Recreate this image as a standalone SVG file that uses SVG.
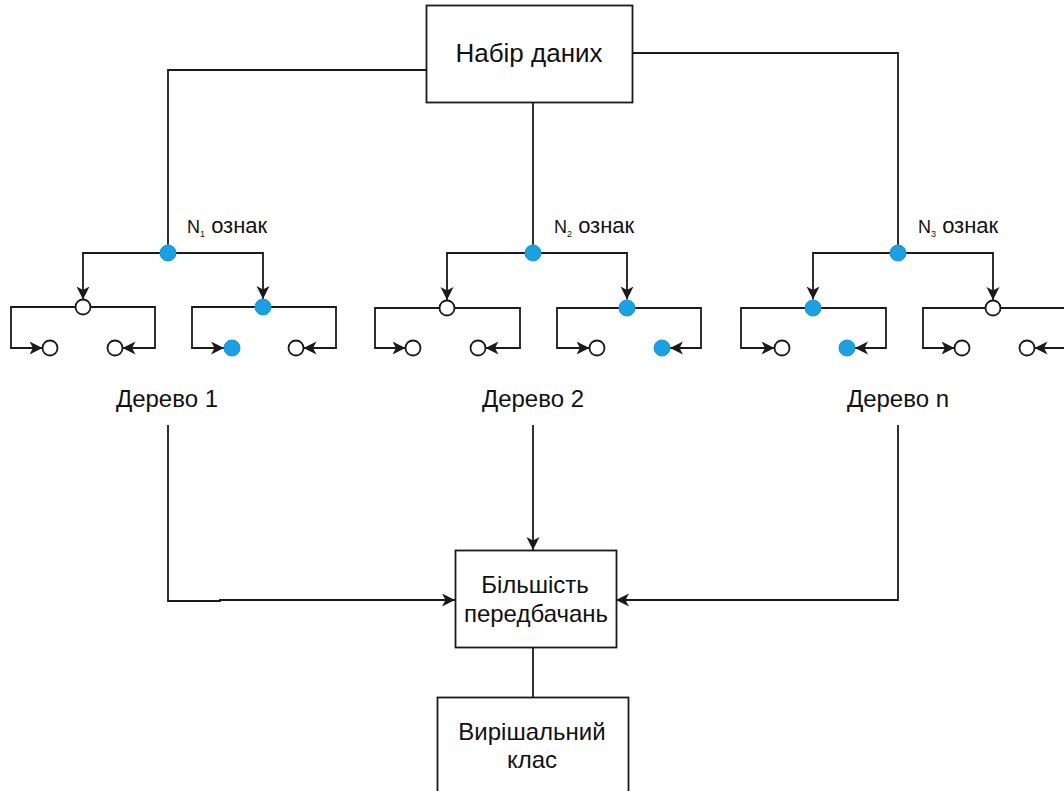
<svg xmlns="http://www.w3.org/2000/svg" width="1064" height="791" viewBox="0 0 1064 791">
<defs>
<style>
.ln{fill:none;stroke:#1a1a1a;stroke-width:1.8}
.box{fill:#fff;stroke:#1a1a1a;stroke-width:1.8}
.w{fill:#fff;stroke:#1a1a1a;stroke-width:1.8}
.b{fill:#1ba1e2;stroke:#1796d6;stroke-width:1}
.t{font-family:"Liberation Sans",Arial,Helvetica,sans-serif;font-size:24px;fill:#111;text-anchor:middle}
.big{font-size:26px}
.s{font-family:"Liberation Sans",Arial,Helvetica,sans-serif;font-size:22px;fill:#111}
</style>
<marker id="ah" markerUnits="userSpaceOnUse" markerWidth="14" markerHeight="14" refX="13" refY="6.5" orient="auto">
<path d="M0,0 L13,6.5 L0,13 L3.5,6.5 Z" fill="#1a1a1a"/>
</marker>
</defs>
<rect width="1064" height="791" fill="#fff"/>

<g id="connectors">
<path class="ln" d="M426,70 H168 V245"/>
<path class="ln" d="M533,102 V245"/>
<path class="ln" d="M632,53 H898 V245"/>
<path class="ln" d="M168,425 V601 H220 V600 H455" marker-end="url(#ah)"/>
<path class="ln" d="M533,425 V550" marker-end="url(#ah)"/>
<path class="ln" d="M898,425 V600 H616" marker-end="url(#ah)"/>
<path class="ln" d="M533,647 V697"/>
<path class="ln" d="M168,253 H83 V299.5" marker-end="url(#ah)"/>
<path class="ln" d="M168,253 H263 V299" marker-end="url(#ah)"/>
<path class="ln" d="M83,307 H11 V348 H42.5" marker-end="url(#ah)"/>
<path class="ln" d="M83,307 H155 V348 H122.5" marker-end="url(#ah)"/>
<path class="ln" d="M263,307 H192 V348 H224" marker-end="url(#ah)"/>
<path class="ln" d="M263,307 H336 V348 H303.5" marker-end="url(#ah)"/>
<path class="ln" d="M533,253 H447 V300" marker-end="url(#ah)"/>
<path class="ln" d="M533,253 H627 V299.5" marker-end="url(#ah)"/>
<path class="ln" d="M447,308 H375 V348 H405.5" marker-end="url(#ah)"/>
<path class="ln" d="M447,308 H520 V348 H485.5" marker-end="url(#ah)"/>
<path class="ln" d="M627,308 H557 V348 H589.5" marker-end="url(#ah)"/>
<path class="ln" d="M627,308 H701 V348 H670" marker-end="url(#ah)"/>
<path class="ln" d="M898,253 H813 V299.5" marker-end="url(#ah)"/>
<path class="ln" d="M898,253 H993 V300" marker-end="url(#ah)"/>
<path class="ln" d="M813,308 H741 V348 H774.5" marker-end="url(#ah)"/>
<path class="ln" d="M813,308 H886 V348 H855" marker-end="url(#ah)"/>
<path class="ln" d="M993,308 H923 V348 H954.5" marker-end="url(#ah)"/>
<path class="ln" d="M993,308 H1066 V348 H1034.5" marker-end="url(#ah)"/>
</g>

<g id="dataset">
<rect class="box" x="426.5" y="5.5" width="206" height="97"/>
<text class="t big" x="529" y="62">Набір даних</text>
</g>

<g id="tree1">
<g id="t1-root"><circle class="b" cx="168" cy="253" r="8"/></g>
<g id="t1-l"><circle class="w" cx="83" cy="307" r="7.5"/></g>
<g id="t1-r"><circle class="b" cx="263" cy="307" r="8"/></g>
<g id="t1-ll"><circle class="w" cx="50" cy="348" r="7.5"/></g>
<g id="t1-lr"><circle class="w" cx="115" cy="348" r="7.5"/></g>
<g id="t1-rl"><circle class="b" cx="232" cy="348" r="8"/></g>
<g id="t1-rr"><circle class="w" cx="296" cy="348" r="7.5"/></g>
<g id="t1-feat"><text class="s" x="187" y="233"><tspan font-size="18">N</tspan><tspan font-size="9" dy="4">1</tspan><tspan dy="-4"> ознак</tspan></text></g>
<g id="t1-label"><text class="t" x="167" y="407">Дерево 1</text></g>
</g>

<g id="tree2">
<g id="t2-root"><circle class="b" cx="533" cy="253" r="8"/></g>
<g id="t2-l"><circle class="w" cx="447" cy="308" r="7.5"/></g>
<g id="t2-r"><circle class="b" cx="627" cy="308" r="8"/></g>
<g id="t2-ll"><circle class="w" cx="413" cy="348" r="7.5"/></g>
<g id="t2-lr"><circle class="w" cx="478" cy="348" r="7.5"/></g>
<g id="t2-rl"><circle class="w" cx="597" cy="348" r="7.5"/></g>
<g id="t2-rr"><circle class="b" cx="662" cy="348" r="8"/></g>
<g id="t2-feat"><text class="s" x="554" y="233"><tspan font-size="18">N</tspan><tspan font-size="9" dy="4">2</tspan><tspan dy="-4"> ознак</tspan></text></g>
<g id="t2-label"><text class="t" x="533" y="407">Дерево 2</text></g>
</g>

<g id="tree3">
<g id="t3-root"><circle class="b" cx="898" cy="253" r="8"/></g>
<g id="t3-l"><circle class="b" cx="813" cy="308" r="8"/></g>
<g id="t3-r"><circle class="w" cx="993" cy="308" r="7.5"/></g>
<g id="t3-ll"><circle class="w" cx="782" cy="348" r="7.5"/></g>
<g id="t3-lr"><circle class="b" cx="847" cy="348" r="8"/></g>
<g id="t3-rl"><circle class="w" cx="962" cy="348" r="7.5"/></g>
<g id="t3-rr"><circle class="w" cx="1027" cy="348" r="7.5"/></g>
<g id="t3-feat"><text class="s" x="918" y="233"><tspan font-size="18">N</tspan><tspan font-size="9" dy="4">3</tspan><tspan dy="-4"> ознак</tspan></text></g>
<g id="t3-label"><text class="t" x="898" y="407">Дерево n</text></g>
</g>

<g id="majority">
<rect class="box" x="455.5" y="550.5" width="161" height="97"/>
<text class="t" x="535" y="593">Більшість</text>
<text class="t" x="536" y="622">передбачань</text>
</g>

<g id="decision">
<rect class="box" x="437.5" y="697.5" width="191" height="110"/>
<text class="t" x="532" y="740">Вирішальний</text>
<text class="t" x="532" y="768">клас</text>
</g>
</svg>
